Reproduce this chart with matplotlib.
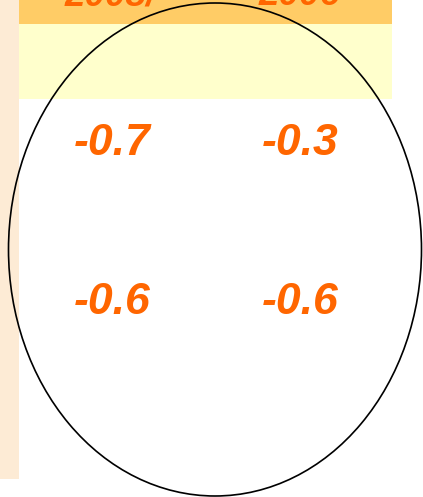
import matplotlib.pyplot as plt
from matplotlib.patches import Rectangle, Ellipse

# =========================
# DADOS
# =========================
cabecalho = ["2005/", "2006"]
linha_1 = ["-0.7", "-0.3"]
linha_2 = ["-0.6", "-0.6"]

LARANJA = "#FF6600"
FONTE = ["Liberation Sans", "DejaVu Sans"]

# =========================
# FIGURA (coordenadas em pixels)
# =========================
fig = plt.figure(figsize=(4.23, 4.97), dpi=100)
ax = fig.add_axes([0, 0, 1, 1])
ax.set_xlim(0, 423)
ax.set_ylim(497, 0)
ax.axis("off")

# faixas de fundo
ax.add_patch(Rectangle((0, 0), 19, 479, color="#FDEBD5", lw=0))
ax.add_patch(Rectangle((19, 0), 373, 24, color="#FFCC66", lw=0))
ax.add_patch(Rectangle((19, 24), 373, 75, color="#FFFFCC", lw=0))

colunas_x = [112, 300]

# cabeçalho cortado no topo (como no original)
for x, txt in zip([111, 300], cabecalho):
    ax.text(x, 5, txt, color=LARANJA, fontsize=26.5, fontweight="bold",
            fontstyle="italic", family=FONTE, ha="center", va="baseline")

for x, txt in zip(colunas_x, linha_1):
    ax.text(x, 155, txt, color=LARANJA, fontsize=32, fontweight="bold",
            fontstyle="italic", family=FONTE, ha="center", va="baseline")

for x, txt in zip(colunas_x, linha_2):
    ax.text(x, 314, txt, color=LARANJA, fontsize=32, fontweight="bold",
            fontstyle="italic", family=FONTE, ha="center", va="baseline")

# elipse
ax.add_patch(Ellipse((215, 249.5), 413, 493, fill=False, ec="black", lw=1.2))

fig.savefig("out.png", dpi=100)
